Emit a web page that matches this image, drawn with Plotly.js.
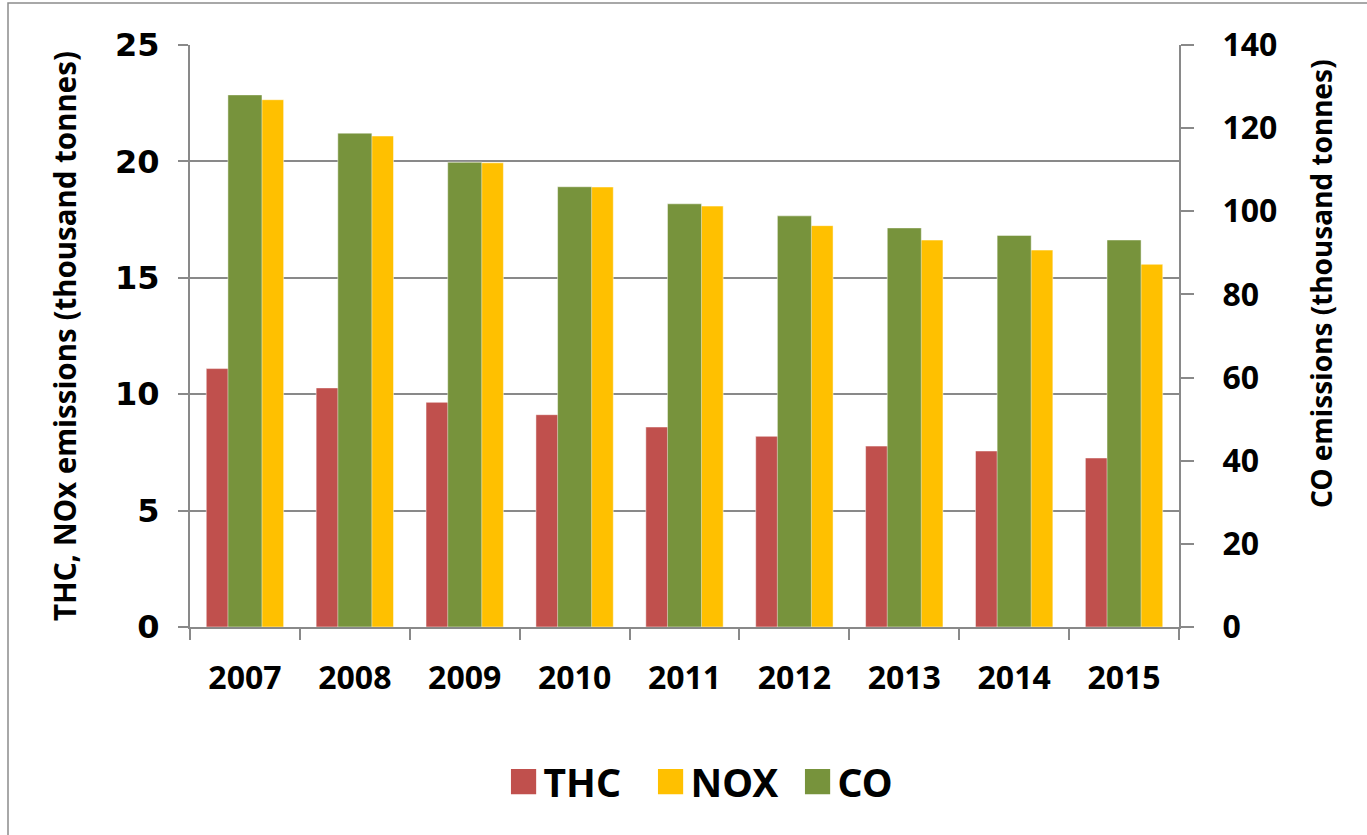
<!DOCTYPE html>
<html>
<head>
<meta charset="utf-8">
<script src="https://cdn.plot.ly/plotly-3.0.1.min.js"></script>
<style>
  html, body { margin: 0; padding: 0; background: #ffffff; }
  #chart { width: 1367px; height: 835px; }
</style>
</head>
<body>
<div id="chart"></div>
<script>
// ---- data ----
const years = ['2007', '2008', '2009', '2010', '2011', '2012', '2013', '2014', '2015'];
const thc = [11.10, 10.27, 9.65, 9.12, 8.59, 8.19, 7.77, 7.56, 7.26];   // thousand tonnes (left axis)
const nox = [22.65, 21.09, 19.94, 18.90, 18.08, 17.24, 16.62, 16.19, 15.58]; // thousand tonnes (left axis)
const co  = [128.0, 118.8, 111.8, 105.9, 101.8, 98.9, 96.0, 94.2, 93.1];    // thousand tonnes (right axis)
const seriesNames = ['THC', 'NOX', 'CO'];
const leftTicks = [0, 5, 10, 15, 20, 25];
const rightTicks = [0, 20, 40, 60, 80, 100, 120, 140];
const leftTitle = 'THC, NOx emissions (thousand tonnes)';
const rightTitle = 'CO emissions (thousand tonnes)';

const colors = { THC: '#C0504D', NOX: '#FFC000', CO: '#77933C' };
const gray = '#898989';
const boldFont = (size, family) => ({ family: family || 'Noto Sans, Open Sans, sans-serif', size: size, color: '#000000', weight: 700 });

const traces = [
  {
    type: 'bar', name: seriesNames[0], x: years, y: thc, xaxis: 'x', yaxis: 'y',
    offset: -0.352, width: 0.352,
    marker: { color: colors.THC, line: { width: 0.8, color: 'rgba(255,255,255,0.6)' } },
    hoverinfo: 'x+y+name'
  },
  {
    type: 'bar', name: seriesNames[1], x: years, y: nox, xaxis: 'x', yaxis: 'y',
    offset: 0.0, width: 0.352,
    marker: { color: colors.NOX, line: { width: 0.8, color: 'rgba(255,255,255,0.6)' } },
    hoverinfo: 'x+y+name'
  },
  {
    type: 'bar', name: seriesNames[2], x: years, y: co, xaxis: 'x', yaxis: 'y2',
    offset: -0.155, width: 0.31,
    marker: { color: colors.CO, line: { width: 0.8, color: 'rgba(255,255,255,0.6)' } },
    hoverinfo: 'x+y+name'
  }
];

const layout = {
  width: 1367, height: 835,
  margin: { l: 190, r: 188, t: 45, b: 208, pad: 0 },
  paper_bgcolor: '#ffffff', plot_bgcolor: 'rgba(0,0,0,0)',
  barmode: 'overlay',
  showlegend: true,
  legend: {
    orientation: 'h', x: 0.540, xanchor: 'center', y: -0.266, yanchor: 'middle',
    font: boldFont(39), traceorder: 'normal', itemclick: false, itemdoubleclick: false,
    entrywidth: 102, entrywidthmode: 'pixels'
  },
  xaxis: {
    type: 'category', categoryorder: 'array', categoryarray: years,
    range: [-0.5, years.length - 0.5],
    showline: true, linecolor: gray, linewidth: 2,
    ticks: 'outside', ticklen: 11, tickwidth: 2, tickcolor: gray, tickson: 'boundaries',
    showgrid: false, zeroline: false,
    tickfont: boldFont(32), ticklabelstandoff: 22,
    fixedrange: true
  },
  yaxis: {
    range: [0, 25], tickvals: leftTicks, ticktext: leftTicks.map(String),
    showline: true, linecolor: gray, linewidth: 2,
    ticks: 'outside', ticklen: 10, tickwidth: 2, tickcolor: gray,
    showgrid: true, gridcolor: gray, gridwidth: 2, zeroline: false,
    tickfont: boldFont(32, 'DejaVu Sans, Verdana, sans-serif'), ticklabelstandoff: 12,
    title: { text: leftTitle, font: boldFont(29.5), standoff: 30 },
    fixedrange: true
  },
  yaxis2: {
    range: [0, 140], tickvals: rightTicks, ticktext: rightTicks.map(String),
    overlaying: 'y', side: 'right', anchor: 'x',
    showline: true, linecolor: gray, linewidth: 2,
    ticks: 'outside', ticklen: 13, tickwidth: 2, tickcolor: gray,
    showgrid: false, zeroline: false,
    tickfont: boldFont(32), ticklabelstandoff: 22,
    fixedrange: true
  },
  annotations: [
    {
      text: rightTitle, textangle: -90, showarrow: false,
      xref: 'paper', yref: 'paper', x: (1321 - 190) / 989, y: (627 - 284) / 582,
      xanchor: 'center', yanchor: 'middle', font: boldFont(28)
    }
  ],
  shapes: [
    {
      type: 'rect', xref: 'paper', yref: 'paper', layer: 'below',
      x0: (8 - 190) / 989, x1: (1380 - 190) / 989,
      y0: (627 - 850) / 582, y1: (627 - 3) / 582,
      line: { color: '#8c8c8c', width: 1.5 }, fillcolor: 'rgba(0,0,0,0)'
    }
  ]
};

Plotly.newPlot('chart', traces, layout, { displayModeBar: false, responsive: false })
  .then(function (gd) {
    // enlarge legend swatches to match the reference's big squares
    gd.querySelectorAll('.legend .legendpoints path').forEach(function (p) {
      const t = p.getAttribute('transform') || '';
      p.setAttribute('transform', t + ' scale(2.1)');
      p.style.strokeWidth = '0px';
    });
  });
</script>
</body>
</html>
